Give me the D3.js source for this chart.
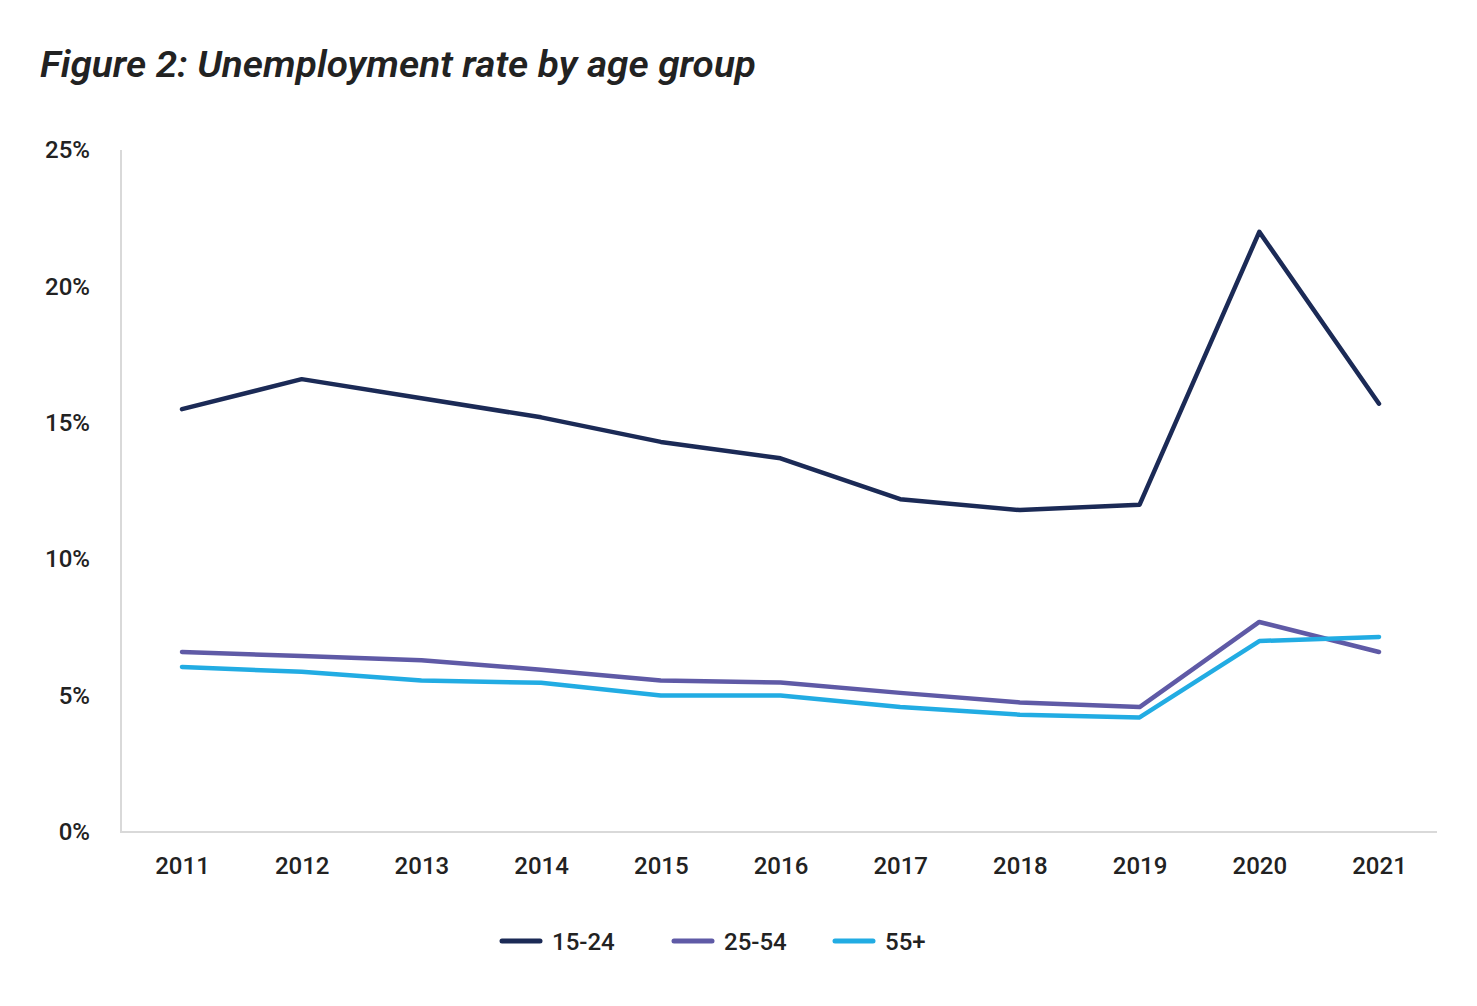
<!DOCTYPE html>
<html><head><meta charset="utf-8">
<script src="https://cdn.jsdelivr.net/npm/d3@7"></script>
<style>body{margin:0;background:#fff;}svg{display:block;font-family:Roboto, "Noto Sans", sans-serif;}</style>
</head><body>
<svg id="chart" width="1477" height="1006"></svg>
<script>
const years = [2011,2012,2013,2014,2015,2016,2017,2018,2019,2020,2021];
const age1524 = [15.5,16.6,15.9,15.2,14.3,13.7,12.2,11.8,12.0,22.0,15.7];
const age2554 = [6.6,6.45,6.3,5.95,5.55,5.48,5.1,4.75,4.58,7.7,6.6];
const age55 = [6.05,5.87,5.55,5.47,5.0,5.0,4.58,4.3,4.2,7.0,7.15];
const seriesNames = ["15-24","25-54","55+"];
const colors = ["#1b2a56","#5f5aa6","#22ace3"];
const yTicks = [0,5,10,15,20,25];

const svg = d3.select("#chart");
svg.append("text").attr("x",40).attr("y",77).attr("font-size",37).attr("font-style","italic")
  .attr("font-weight",600).attr("fill","#222").attr("textLength",716).attr("lengthAdjust","spacingAndGlyphs")
  .text("Figure 2: Unemployment rate by age group");

const x = d3.scalePoint().domain(years).range([182,1379]);
const y = d3.scaleLinear().domain([0,25]).range([832,150]);

// axis lines
svg.append("line").attr("x1",121).attr("x2",121).attr("y1",150).attr("y2",832).attr("stroke","#d9d9d9").attr("stroke-width",2);
svg.append("line").attr("x1",120).attr("x2",1437).attr("y1",832).attr("y2",832).attr("stroke","#d9d9d9").attr("stroke-width",2);

const yAxis = d3.axisLeft(y).tickValues(yTicks).tickFormat(d=>d+"%").tickSize(0).tickPadding(0);
const gy = svg.append("g").attr("transform","translate(90,0)").call(yAxis);
gy.select(".domain").remove();
gy.selectAll("text").attr("font-size",24).attr("font-weight",500).attr("fill","#222").attr("font-family","Roboto");

const xAxis = d3.axisBottom(x).tickSize(0).tickPadding(0).tickFormat(d=>String(d));
const gx = svg.append("g").attr("transform","translate(0,857)").call(xAxis);
gx.select(".domain").remove();
gx.selectAll("text").attr("font-size",24).attr("font-weight",500).attr("fill","#222").attr("font-family","Roboto");

const data = [age1524, age2554, age55];
const line = d3.line().x((d,i)=>x(years[i])).y(d=>y(d));
data.forEach((s,k)=>{
  svg.append("path").datum(s).attr("d",line).attr("fill","none").attr("stroke",colors[k])
    .attr("stroke-width",4.5).attr("stroke-linecap","round").attr("stroke-linejoin","round");
});

// legend
const legX = [502,674,835];
seriesNames.forEach((n,k)=>{
  svg.append("line").attr("x1",legX[k]).attr("x2",legX[k]+38).attr("y1",941).attr("y2",941)
    .attr("stroke",colors[k]).attr("stroke-width",5).attr("stroke-linecap","round");
  svg.append("text").attr("x",legX[k]+50).attr("y",949.5).attr("font-size",24).attr("font-weight",500)
    .attr("fill","#222").text(n);
});
</script>
</body></html>
